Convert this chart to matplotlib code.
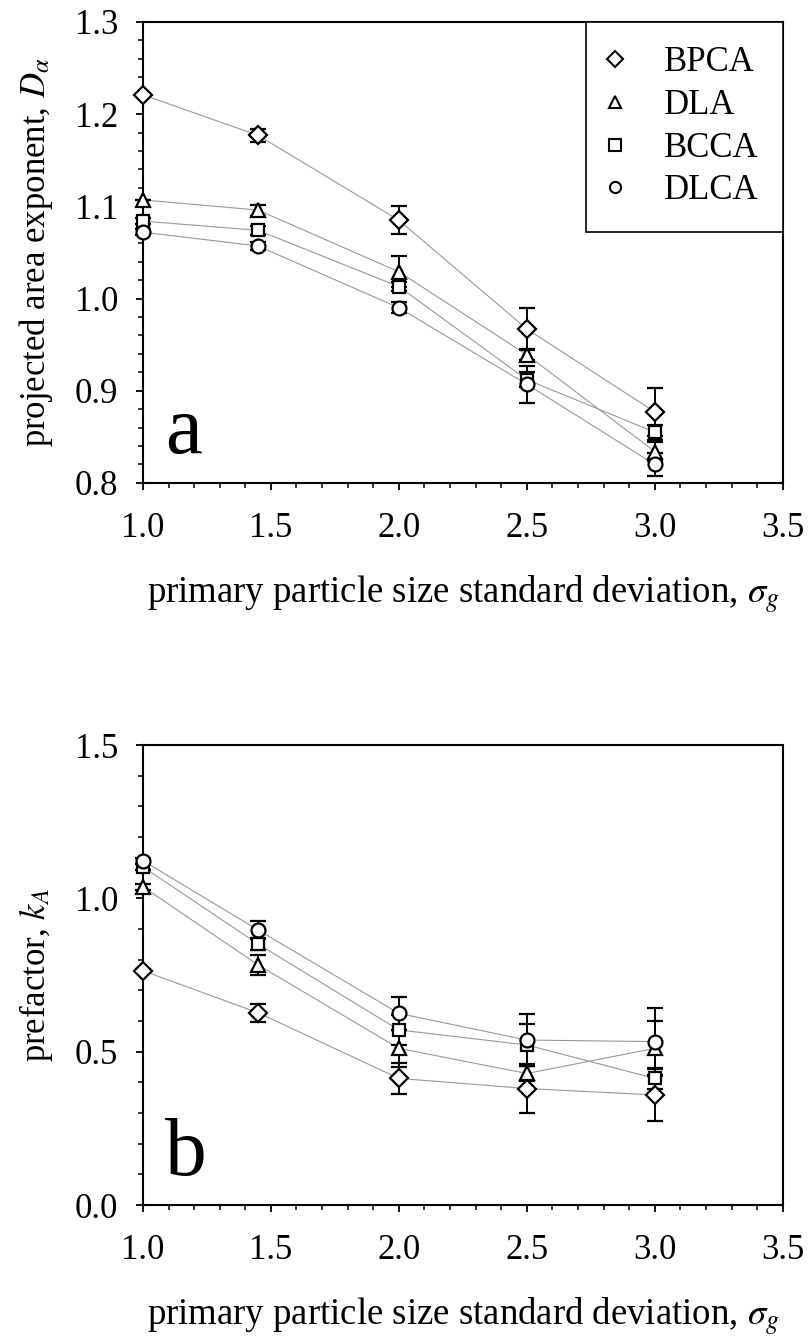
import matplotlib
matplotlib.use("Agg")
import matplotlib.pyplot as plt
from matplotlib.lines import Line2D
from matplotlib.ticker import MultipleLocator, FormatStrFormatter

plt.rcParams['font.family'] = 'Liberation Serif'
plt.rcParams['mathtext.fontset'] = 'stix'

sigma_g = [1.0, 1.45, 2.0, 2.5, 3.0]
names = ['BPCA', 'DLA', 'BCCA', 'DLCA']
markers = ['D', '^', 's', 'o']
msizes = [9.5, 10, 9, 10]

# panel a: projected area exponent
D_alpha = {
    'BPCA': [1.221, 1.177, 1.085, 0.967, 0.877],
    'DLA':  [1.107, 1.096, 1.029, 0.939, 0.834],
    'BCCA': [1.084, 1.074, 1.013, 0.912, 0.855],
    'DLCA': [1.072, 1.057, 0.990, 0.907, 0.820],
}
D_err = {
    'BPCA': [0.0, 0.007, 0.015, 0.023, 0.026],
    'DLA':  [0.0, 0.006, 0.017, 0.006, 0.010],
    'BCCA': [0.003, 0.005, 0.005, 0.008, 0.008],
    'DLCA': [0.003, 0.004, 0.006, 0.020, 0.013],
}

# panel b: prefactor
k_A = {
    'BPCA': [0.764, 0.627, 0.413, 0.380, 0.359],
    'DLA':  [1.038, 0.783, 0.511, 0.429, 0.511],
    'BCCA': [1.103, 0.851, 0.571, 0.522, 0.413],
    'DLCA': [1.123, 0.897, 0.625, 0.538, 0.533],
}
k_err = {
    'BPCA': [0.005, 0.030, 0.050, 0.080, 0.085],
    'DLA':  [0.010, 0.033, 0.060, 0.025, 0.090],
    'BCCA': [0.010, 0.020, 0.050, 0.070, 0.035],
    'DLCA': [0.010, 0.030, 0.055, 0.085, 0.110],
}

fig = plt.figure(figsize=(8.12, 13.4), dpi=100)
ax1 = fig.add_axes([0.176, 0.6396, 0.788, 0.344])
ax2 = fig.add_axes([0.176, 0.1007, 0.788, 0.3433])


def draw(ax, vals, errs):
    for n, m, ms in zip(names, markers, msizes):
        ax.plot(sigma_g, vals[n], color='#999999', lw=0.8, zorder=1)
        ax.errorbar(sigma_g, vals[n], yerr=errs[n], fmt=m, ms=ms, mfc='white',
                    mec='black', mew=1.6, ecolor='black', elinewidth=1.4,
                    capsize=5.5, capthick=1.4, zorder=3, clip_on=False)
    ax.set_xlim(1.0, 3.5)
    ax.xaxis.set_major_locator(MultipleLocator(0.5))
    ax.xaxis.set_minor_locator(MultipleLocator(0.1))
    ax.xaxis.set_major_formatter(FormatStrFormatter('%.1f'))
    ax.yaxis.set_major_formatter(FormatStrFormatter('%.1f'))
    ax.tick_params(axis='x', which='major', direction='out', length=5,
                   width=1.3, labelsize=25, pad=16)
    ax.tick_params(axis='y', which='major', direction='out', length=5,
                   width=1.3, labelsize=25, pad=13)
    ax.tick_params(which='minor', direction='out', length=3.5, width=1.1)
    for s in ax.spines.values():
        s.set_linewidth(1.5)
    ax.set_xlabel(r'primary particle size standard deviation, $\sigma_g$',
                  fontsize=26.5, labelpad=20)


draw(ax1, D_alpha, D_err)
ax1.set_ylim(0.8, 1.3)
ax1.yaxis.set_major_locator(MultipleLocator(0.1))
ax1.yaxis.set_minor_locator(MultipleLocator(0.02))
ax1.set_ylabel(r'projected area exponent, $D_\alpha$', fontsize=25, labelpad=14)
ax1.text(0.034, 0.065, 'a', transform=ax1.transAxes, fontsize=60, va='baseline')

handles = [Line2D([], [], ls='none', marker=m, ms=8, mfc='white', mec='black',
                  mew=1.5) for m in markers]
leg = ax1.legend(handles, names, loc='upper right', borderaxespad=0,
                 fontsize=25, frameon=True, fancybox=False, edgecolor='black',
                 handlelength=0.3, handletextpad=1.25, borderpad=0.7,
                 labelspacing=0.28)
leg.get_frame().set_linewidth(1.2)
leg.get_frame().set_alpha(1)

draw(ax2, k_A, k_err)
ax2.set_ylim(0.0, 1.5)
ax2.yaxis.set_major_locator(MultipleLocator(0.5))
ax2.yaxis.set_minor_locator(MultipleLocator(0.1))
ax2.set_ylabel(r'prefactor, $k_A$', fontsize=25, labelpad=14)
ax2.text(0.034, 0.065, 'b', transform=ax2.transAxes, fontsize=60, va='baseline')

fig.savefig('out.png', dpi=100)
